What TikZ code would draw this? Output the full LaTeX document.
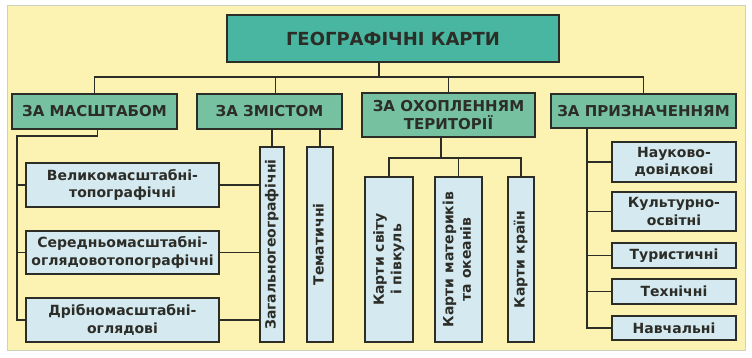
\documentclass[tikz,border=0pt]{standalone}
\usepackage{fontspec}
\setmainfont{DejaVu Sans}
\usetikzlibrary{positioning}
\definecolor{panelfill}{RGB}{252,242,178}
\definecolor{panelline}{RGB}{205,210,190}
\definecolor{titlefill}{RGB}{72,182,160}
\definecolor{groupfill}{RGB}{118,194,160}
\definecolor{leaffill}{RGB}{212,233,240}
\definecolor{linedark}{RGB}{45,45,40}
\newcommand{\vtext}[1]{\rotatebox{90}{\begin{tabular}{@{}c@{}}#1\end{tabular}}}
\tikzset{
  box/.style={
    draw=linedark,
    line width=1.6pt,
    anchor=north west,
    align=center,
    inner sep=0pt,
    outer sep=0pt,
    text=linedark
  },
  titlebox/.style={box,fill=titlefill,font=\fontsize{18}{21}\selectfont\bfseries},
  group/.style={box,fill=groupfill,font=\fontsize{15}{18}\selectfont\bfseries},
  leaf/.style={box,fill=leaffill,font=\fontsize{14}{17.5}\selectfont\bfseries},
  link/.style={draw=linedark,line width=1.6pt}
}
\begin{document}
\begin{tikzpicture}[x=1pt,y=-1pt]

  \fill[white] (0,0) rectangle (752,357);
  \draw[panelline,fill=panelfill,line width=1pt] (7,5) rectangle (745,350);

  \node[titlebox,minimum width=332,minimum height=47] at (227,15) (title) {ГЕОГРАФІЧНІ КАРТИ};

  \node[group,minimum width=165,minimum height=35] at (12,94) (masshtab) {ЗА МАСШТАБОМ};
  \node[group,minimum width=145,minimum height=35] at (197,94) (zmist) {ЗА ЗМІСТОМ};
  \node[group,minimum width=173,minimum height=44] at (362,93) (okhop) {ЗА ОХОПЛЕННЯМ\\ТЕРИТОРІЇ};
  \node[group,minimum width=185,minimum height=34] at (551,94) (pryzn) {ЗА ПРИЗНАЧЕННЯМ};

  \node[leaf,minimum width=193,minimum height=44] at (26,163) (velyko) {Великомасштабні-\\топографічні};
  \node[leaf,minimum width=193,minimum height=43] at (26,231) (seredno) {Середньомасштабні-\\оглядовотопографічні};
  \node[leaf,minimum width=193,minimum height=44] at (26,298) (dribno) {Дрібномасштабні-\\оглядові};

  \node[leaf,minimum width=24,minimum height=195] at (260,147) (zahal) {\vtext{Загальногеографічні}};
  \node[leaf,minimum width=26,minimum height=195] at (307,147) (temat) {\vtext{Тематичні}};

  \node[leaf,minimum width=48,minimum height=165] at (365,177) (svit) {\vtext{Карти світу\\і півкуль}};
  \node[leaf,minimum width=47,minimum height=165] at (435,177) (materyk) {\vtext{Карти материків\\та океанів}};
  \node[leaf,minimum width=26,minimum height=165] at (508,177) (krain) {\vtext{Карти країн}};

  \node[leaf,minimum width=124,minimum height=40] at (612,142) (naukovo) {Науково-\\довідкові};
  \node[leaf,minimum width=124,minimum height=39] at (612,192) (kultur) {Культурно-\\освітні};
  \node[leaf,minimum width=124,minimum height=25] at (612,243) (turyst) {Туристичні};
  \node[leaf,minimum width=124,minimum height=25] at (612,279) (tekhn) {Технічні};
  \node[leaf,minimum width=124,minimum height=24] at (612,316) (navch) {Навчальні};

  \coordinate (bus) at (379,77);
  \coordinate (mturn) at (17,136);
  \coordinate (obus) at (441,158);
  \coordinate (pturn) at (587,128);

  \draw[link] (title.south -| bus) -- (bus);
  \draw[link] (masshtab.north) |- (pryzn.north |- bus) -- (pryzn.north);
  \draw[link] ([xshift=6]zmist.north) -- ([xshift=6]zmist.north |- bus);
  \draw[link] (okhop.north) -- (okhop.north |- bus);

  \draw[link] ([xshift=3]masshtab.south) |- (mturn) |- (dribno.west);
  \foreach \n in {velyko,seredno}
    \draw[link] (mturn |- \n.west) -- (\n.west);
  \foreach \n in {velyko,seredno,dribno}
    \draw[link] (\n.east) -- (\n.east -| zahal.west);

  \draw[link] (zmist.south -| zahal.north) -- (zahal.north);
  \draw[link] (zmist.south -| temat.north) -- (temat.north);

  \draw[link] (okhop.south -| obus) -- (obus);
  \draw[link] (svit.north) |- (obus) -| (krain.north);
  \draw[link] (materyk.north) -- (materyk.north |- obus);

  \draw[link] (pturn) |- (navch.west);
  \foreach \n in {naukovo,kultur,turyst,tekhn}
    \draw[link] (pturn |- \n.west) -- (\n.west);

\end{tikzpicture}
\end{document}
